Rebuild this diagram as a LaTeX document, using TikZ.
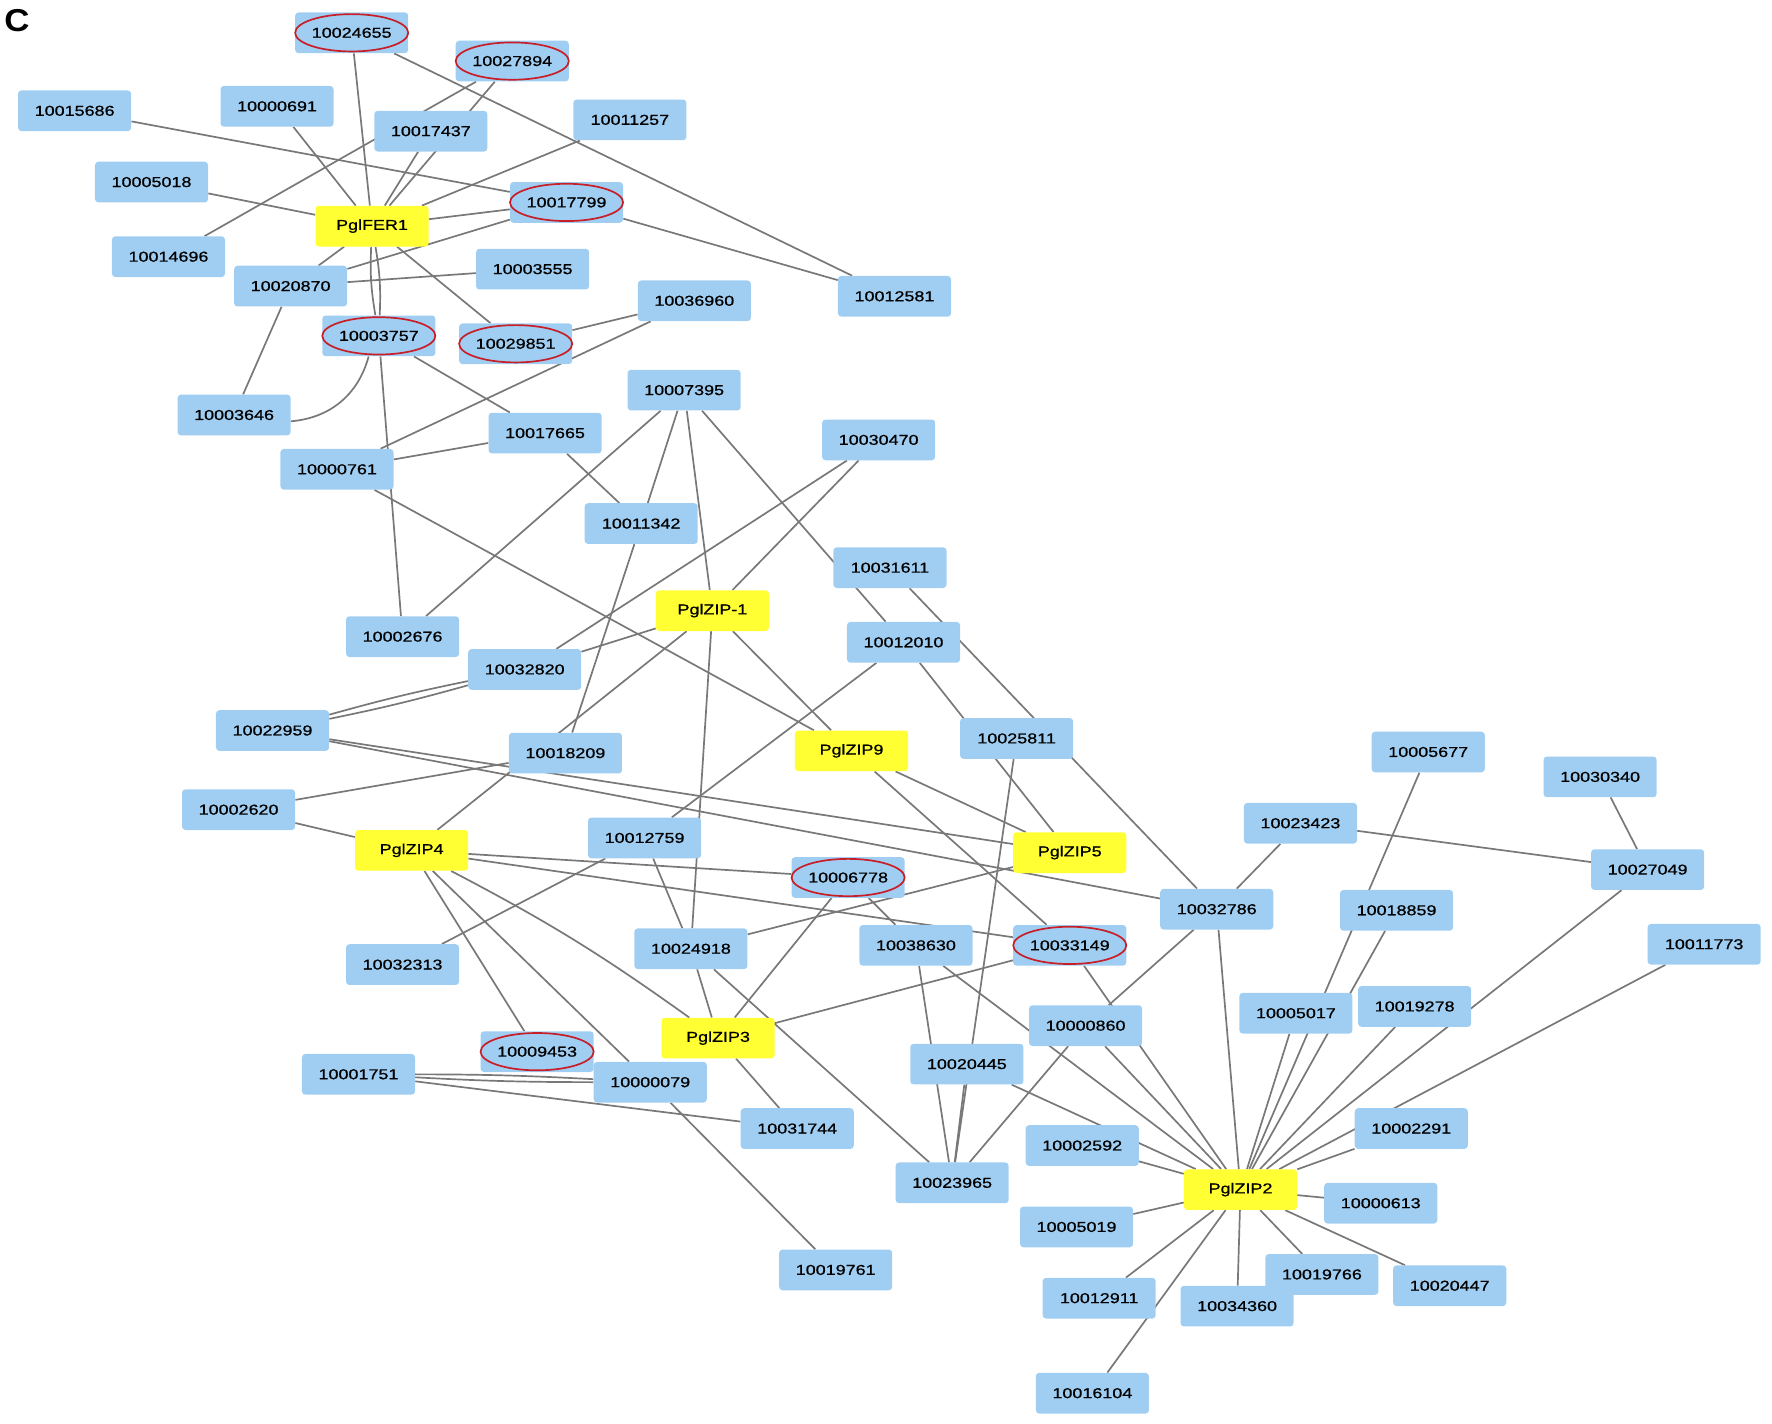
\documentclass[tikz,border=0pt]{standalone}
\usepackage{fontspec}
\newfontfamily\lab[FakeStretch=1.25,FakeBold=0.7]{Liberation Sans}
\newfontfamily\labC[FakeStretch=1.1]{Liberation Sans}
\definecolor{boxblue}{RGB}{160,206,242}
\definecolor{boxyellow}{RGB}{255,255,51}
\definecolor{edgegray}{RGB}{120,120,120}
\definecolor{ringred}{RGB}{200,30,40}
\pgfdeclarelayer{bg}
\pgfsetlayers{bg,main}
\tikzset{
  bx/.style={draw=none, fill=boxblue, rounded corners=3pt, minimum width=100pt, minimum height=36pt, inner sep=0pt, font=\lab\fontsize{12.7}{14}\selectfont, text=black},
  yb/.style={bx, fill=boxyellow},
  ring/.style={draw=ringred, line width=1.5pt},
  edge/.style={draw=edgegray, line width=1.5pt}
}
\begin{document}
\begin{tikzpicture}[x=1pt,y=-1pt]
\useasboundingbox (0,0) rectangle (1567,1258.4);
\node[font=\labC\bfseries\fontsize{28}{30}\selectfont, anchor=center, inner sep=0pt] (lblC) at (15,18) {C};
% nodes
\node[bx] (n10024655) at (311,29) {10024655};
\node[bx] (n10027894) at (453,54) {10027894};
\node[bx] (n10015686) at (66,98) {10015686};
\node[bx] (n10000691) at (245,94) {10000691};
\node[bx] (n10017437) at (381,116) {10017437};
\node[bx] (n10011257) at (557,106) {10011257};
\node[bx] (n10005018) at (134,161) {10005018};
\node[bx] (n10017799) at (501,179) {10017799};
\node[yb] (FER1) at (329,200) {PglFER1};
\node[bx] (n10014696) at (149,227) {10014696};
\node[bx] (n10003555) at (471,238) {10003555};
\node[bx] (n10020870) at (257,253) {10020870};
\node[bx] (n10012581) at (791,262) {10012581};
\node[bx] (n10036960) at (614,266) {10036960};
\node[bx] (n10003757) at (335,297) {10003757};
\node[bx] (n10029851) at (456,304) {10029851};
\node[bx] (n10007395) at (605,345) {10007395};
\node[bx] (n10003646) at (207,367) {10003646};
\node[bx] (n10017665) at (482,383) {10017665};
\node[bx] (n10030470) at (777,389) {10030470};
\node[bx] (n10000761) at (298,415) {10000761};
\node[bx] (n10011342) at (567,463) {10011342};
\node[bx] (n10031611) at (787,502) {10031611};
\node[yb] (Z1) at (630,540) {PglZIP-1};
\node[bx] (n10002676) at (356,563) {10002676};
\node[bx] (n10012010) at (799,568) {10012010};
\node[bx] (n10032820) at (464,592) {10032820};
\node[bx] (n10022959) at (241,646) {10022959};
\node[bx] (n10018209) at (500,666) {10018209};
\node[yb] (Z9) at (753,664) {PglZIP9};
\node[bx] (n10025811) at (899,653) {10025811};
\node[bx] (n10005677) at (1263,665) {10005677};
\node[bx] (n10030340) at (1415,687) {10030340};
\node[bx] (n10002620) at (211,716) {10002620};
\node[bx] (n10023423) at (1150,728) {10023423};
\node[bx] (n10012759) at (570,741) {10012759};
\node[yb] (Z4) at (364,752) {PglZIP4};
\node[yb] (Z5) at (946,754) {PglZIP5};
\node[bx] (n10027049) at (1457,769) {10027049};
\node[bx] (n10006778) at (750,776) {10006778};
\node[bx] (n10032786) at (1076,804) {10032786};
\node[bx] (n10018859) at (1235,805) {10018859};
\node[bx] (n10024918) at (611,839) {10024918};
\node[bx] (n10038630) at (810,836) {10038630};
\node[bx] (n10033149) at (946,836) {10033149};
\node[bx] (n10011773) at (1507,835) {10011773};
\node[bx] (n10032313) at (356,853) {10032313};
\node[bx] (n10005017) at (1146,896) {10005017};
\node[bx] (n10019278) at (1251,890) {10019278};
\node[bx] (n10000860) at (960,907) {10000860};
\node[yb] (Z3) at (635,918) {PglZIP3};
\node[bx] (n10009453) at (475,930) {10009453};
\node[bx] (n10020445) at (855,941) {10020445};
\node[bx] (n10001751) at (317,950) {10001751};
\node[bx] (n10000079) at (575,957) {10000079};
\node[bx] (n10031744) at (705,998) {10031744};
\node[bx] (n10002291) at (1248,998) {10002291};
\node[bx] (n10002592) at (957,1013) {10002592};
\node[bx] (n10023965) at (842,1046) {10023965};
\node[yb] (Z2) at (1097,1052) {PglZIP2};
\node[bx] (n10000613) at (1221,1064) {10000613};
\node[bx] (n10005019) at (952,1085) {10005019};
\node[bx] (n10019761) at (739,1123) {10019761};
\node[bx] (n10019766) at (1169,1127) {10019766};
\node[bx] (n10020447) at (1282,1137) {10020447};
\node[bx] (n10012911) at (972,1148) {10012911};
\node[bx] (n10034360) at (1094,1155) {10034360};
\node[bx] (n10016104) at (966,1232) {10016104};
% red rings
\foreach \n in {n10024655,n10027894,n10017799,n10003757,n10029851,n10006778,n10033149,n10009453}
  \draw[ring] (\n.center) ellipse [x radius=50, y radius=16.5];
% edges
\begin{pgfonlayer}{bg}
\path[edge] (n10024655) -- (FER1);
\path[edge] (FER1) to[bend left=6] (n10003757);
\path[edge] (FER1) to[bend right=6] (n10003757);
\path[edge] (n10024655) -- (n10012581);
\path[edge] (n10027894) -- (n10014696);
\path[edge] (n10027894) -- (FER1);
\path[edge] (n10017437) -- (FER1);
\path[edge] (n10000691) -- (FER1);
\path[edge] (n10015686) -- (n10017799);
\path[edge] (n10005018) -- (FER1);
\path[edge] (n10011257) -- (FER1);
\path[edge] (FER1) -- (n10017799);
\path[edge] (n10017799) -- (n10020870);
\path[edge] (n10020870) -- (FER1);
\path[edge] (n10020870) -- (n10003555);
\path[edge] (n10017799) -- (n10012581);
\path[edge] (FER1) -- (n10029851);
\path[edge] (n10020870) -- (n10003646);
\path[edge] (n10003757) to[bend left=35] (n10003646);
\path[edge] (n10003757) -- (n10002676);
\path[edge] (n10003757) -- (n10017665);
\path[edge] (n10029851) -- (n10036960);
\path[edge] (n10036960) -- (n10000761);
\path[edge] (n10000761) -- (n10017665);
\path[edge] (n10017665) -- (n10011342);
\path[edge] (n10000761) -- (Z9);
\path[edge] (n10007395) -- (n10002676);
\path[edge] (n10007395) -- (n10011342);
\path[edge] (n10007395) -- (Z1);
\path[edge] (n10007395) -- (n10012010);
\path[edge] (n10031611) -- (n10032786);
\path[edge] (n10012010) -- (Z5);
\path[edge] (n10025811) -- (n10023965);
\path[edge] (n10030470) -- (n10032820);
\path[edge] (n10030470) -- (Z1);
\path[edge] (n10011342) -- (n10018209);
\path[edge] (Z1) -- (n10032820);
\path[edge] (Z1) -- (Z4);
\path[edge] (Z1) -- (n10024918);
\path[edge] (Z1) -- (Z9);
\path[edge] (n10032820) to[bend left=2] (n10022959);
\path[edge] (n10032820) to[bend right=2] (n10022959);
\path[edge] (n10022959) -- (Z5);
\path[edge] (n10022959) -- (n10032786);
\path[edge] (n10002620) -- (n10018209);
\path[edge] (n10002620) -- (Z4);
\path[edge] (n10012759) -- (n10032313);
\path[edge] (n10012759) -- (n10012010);
\path[edge] (n10012759) -- (n10024918);
\path[edge] (Z4) -- (n10006778);
\path[edge] (Z4) -- (n10033149);
\path[edge] (Z4) -- (n10009453);
\path[edge] (Z4) -- (n10000079);
\path[edge] (Z4) to[bend left=4] (Z3);
\path[edge] (n10024918) -- (Z5);
\path[edge] (n10024918) -- (Z3);
\path[edge] (n10024918) -- (n10023965);
\path[edge] (n10006778) -- (Z3);
\path[edge] (n10006778) -- (n10038630);
\path[edge] (Z9) -- (Z5);
\path[edge] (Z9) -- (n10033149);
\path[edge] (Z3) -- (n10033149);
\path[edge] (n10023423) -- (n10032786);
\path[edge] (n10032786) -- (n10000860);
\path[edge] (n10032786) -- (Z2);
\path[edge] (n10033149) -- (Z2);
\path[edge] (n10000860) -- (Z2);
\path[edge] (n10038630) -- (n10023965);
\path[edge] (n10038630) -- (Z2);
\path[edge] (n10020445) -- (Z2);
\path[edge] (n10002592) -- (Z2);
\path[edge] (n10020445) -- (n10023965);
\path[edge] (n10000860) -- (n10023965);
\path[edge] (n10031744) -- (Z3);
\path[edge] (n10001751) to[bend left=1.5] (n10000079);
\path[edge] (n10001751) to[bend right=1.5] (n10000079);
\path[edge] (n10001751) -- (n10031744);
\path[edge] (n10000079) -- (n10019761);
\path[edge] (n10005017) -- (Z2);
\path[edge] (n10005677) -- (Z2);
\path[edge] (n10018859) -- (Z2);
\path[edge] (n10019278) -- (Z2);
\path[edge] (n10027049) -- (Z2);
\path[edge] (n10011773) -- (Z2);
\path[edge] (n10002291) -- (Z2);
\path[edge] (n10000613) -- (Z2);
\path[edge] (n10005019) -- (Z2);
\path[edge] (n10012911) -- (Z2);
\path[edge] (n10016104) -- (Z2);
\path[edge] (n10034360) -- (Z2);
\path[edge] (n10019766) -- (Z2);
\path[edge] (n10020447) -- (Z2);
\path[edge] (n10030340) -- (n10027049);
\path[edge] (n10023423) -- (n10027049);
\end{pgfonlayer}
\end{tikzpicture}
\end{document}
